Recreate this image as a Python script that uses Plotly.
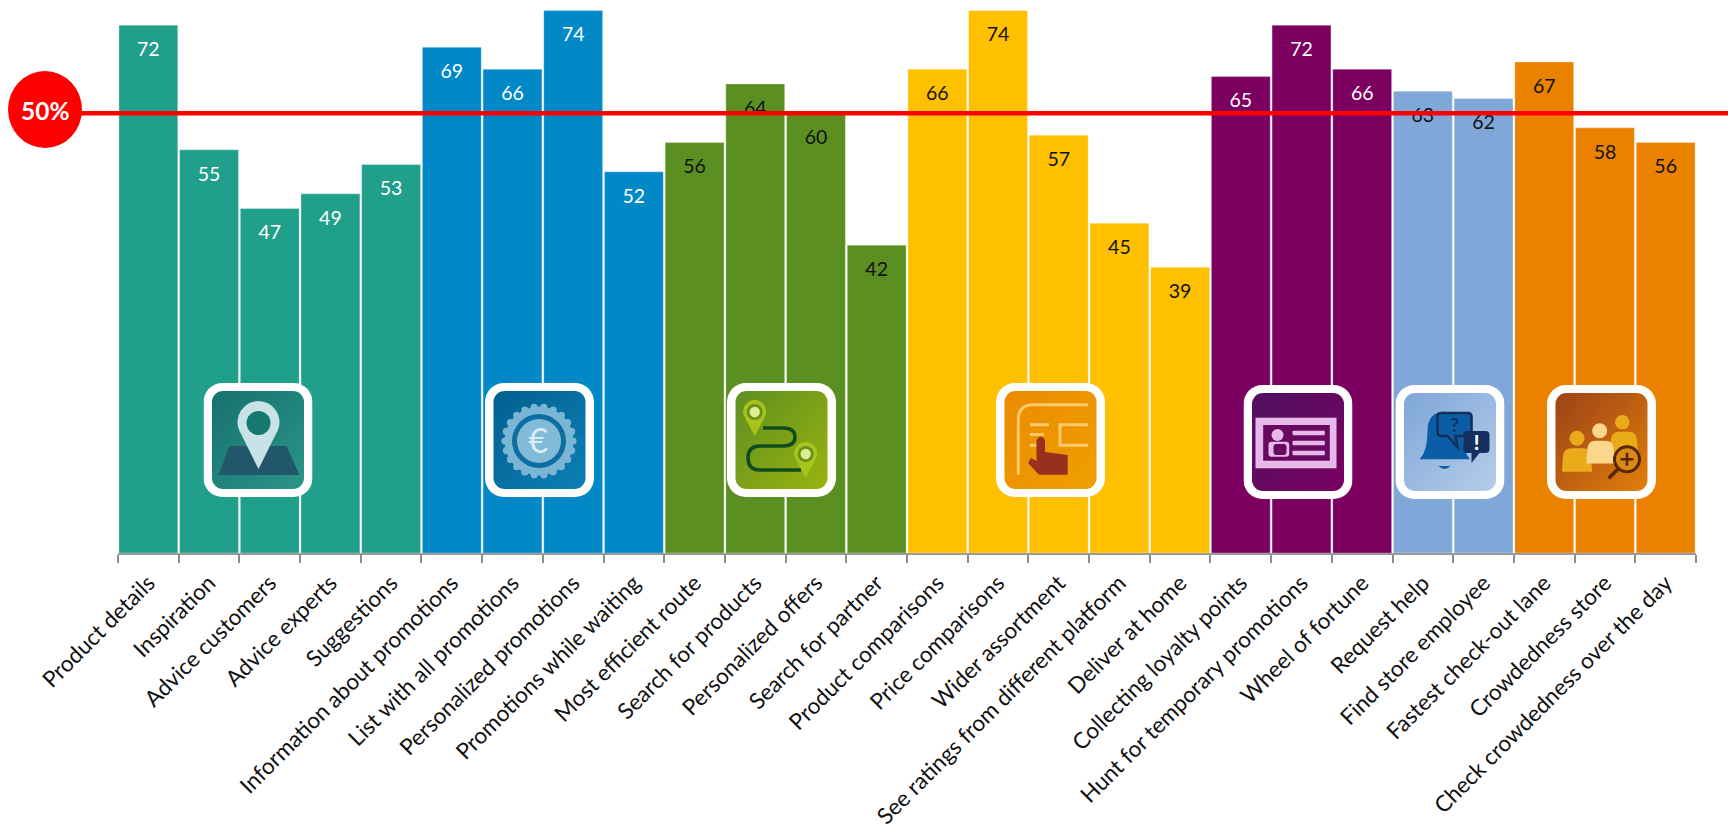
import base64
import math

import plotly.graph_objects as go

# ---- chart data ----
categories = [
    "Product details", "Inspiration", "Advice customers", "Advice experts", "Suggestions",
    "Information about promotions", "List with all promotions", "Personalized promotions",
    "Promotions while waiting",
    "Most efficient route", "Search for products", "Personalized offers", "Search for partner",
    "Product comparisons", "Price comparisons", "Wider assortment",
    "See ratings from different platform", "Deliver at home",
    "Collecting loyalty points", "Hunt for temporary promotions", "Wheel of fortune",
    "Request help", "Find store employee",
    "Fastest check-out lane", "Crowdedness store", "Check crowdedness over the day",
]
values = [72, 55, 47, 49, 53, 69, 66, 74, 52, 56, 64, 60, 42, 66, 74, 57, 45, 39, 65, 72, 66, 63, 62, 67, 58, 56]
group_sizes = [5, 4, 4, 5, 3, 2, 3]
group_colors = ["#20A08A", "#0089C6", "#5C8F22", "#FFC000", "#7B005F", "#7FA8D9", "#EA8200"]
group_text_colors = ["white", "white", "#111111", "#111111", "white", "#111111", "#111111"]
reference_level = 60
reference_label = "50%"

bar_colors = [c for c, n in zip(group_colors, group_sizes) for _ in range(n)]
text_colors = [c for c, n in zip(group_text_colors, group_sizes) for _ in range(n)]

# ---- page geometry ----
WIDTH, HEIGHT = 1728, 829
LEFT, RIGHT, TOP, BOTTOM = 118, 32, 8, 276
plot_w = WIDTH - LEFT - RIGHT
plot_h = HEIGHT - TOP - BOTTOM
PX_PER_UNIT = 7.33
y_max = plot_h / PX_PER_UNIT
label_drop = 26 / PX_PER_UNIT


def px(x):
    return (x - LEFT) / plot_w


def py(y):
    return 1 - (y - TOP) / plot_h


# ---- badge artwork ----
def pin(cx, cy, r, tip, body, hole=None, hole_r=0):
    dx = r * 0.92
    d = (f"M{cx - dx},{cy + r * 0.35} A{r},{r} 0 1 1 {cx + dx},{cy + r * 0.35} L{cx},{tip} Z")
    s = f'<path d="{d}" fill="{body}"/>'
    if hole:
        s += f'<circle cx="{cx}" cy="{cy}" r="{hole_r}" fill="{hole}"/>'
    return s


def gear(cx, cy, r, n, fill):
    s = f'<circle cx="{cx}" cy="{cy}" r="{r - 2.5}" fill="{fill}"/>'
    for i in range(n):
        a = 2 * math.pi * i / n
        s += f'<circle cx="{cx + (r - 3) * math.cos(a):.2f}" cy="{cy + (r - 3) * math.sin(a):.2f}" r="3.6" fill="{fill}"/>'
    return s


def person(hx, hy, hr, x0, y0, x1, y1, fill):
    return (f'<circle cx="{hx}" cy="{hy}" r="{hr}" fill="{fill}"/>'
            f'<path d="M{x0},{y1} L{x0 + 1},{y0 + 8} Q{x0 + 2},{y0} {x0 + 9},{y0} L{x1 - 9},{y0} '
            f'Q{x1 - 2},{y0} {x1 - 1},{y0 + 8} L{x1},{y1} Z" fill="{fill}"/>')


art_map = ('<path d="M26,63 L83,63 L96,92 L15,92 Z" fill="#22566A"/>'
           + pin(55, 40, 21, 86, "#C7E3E6", "#17786F", 12))

art_coupon = (gear(54, 58, 37, 22, "#7AB5D3")
              + '<circle cx="54" cy="58" r="27" fill="#0C6EA3"/>'
              + '<circle cx="54" cy="58" r="22" fill="#82BBD8"/>'
              + '<text x="53" y="70" font-family="Lato" font-size="34" text-anchor="middle" fill="#DCECF2">€</text>')

art_route = ('<path d="M36,45 L56,45 Q68,45 68,54 Q68,63 56,63 L33,63 Q21,63 21,75 Q21,87 33,87 L74,87" '
             'fill="none" stroke="#0F4D1D" stroke-width="3.5"/>'
             + pin(27.7, 29, 11.5, 53, "#A8C41A", "#6A8F1E", 8)
             + '<circle cx="27.7" cy="29" r="5.2" fill="#DCEF8F"/>'
             + pin(78.7, 71, 11.5, 95, "#A8C41A", "#6A8F1E", 8)
             + '<circle cx="78.7" cy="71" r="5.2" fill="#DCEF8F"/>')

art_touch = ('<g fill="none" stroke="#FBC96A" stroke-width="3">'
             '<path d="M22.3,91.7 L22.3,36.7 Q22.3,21.7 37.3,21.7 L92.3,21.7"/>'
             '<path d="M34,41.7 L53,41.7 M34,51.5 L48,51.5 M34,62.3 L44,62.3"/>'
             '<path d="M92.3,41.7 L64,41.7 L64,62.3 L92.3,62.3"/></g>'
             '<path d="M40.5,57 Q44.7,50 49,57 L49,69 L71.7,72 L71.7,91.7 L43,91.7 L32,80 L35,75 L40.5,78 Z" fill="#98301F"/>')

art_card = ('<rect x="12" y="32.7" width="81" height="50.6" fill="#E7B8EA"/>'
            '<rect x="19.7" y="40" width="66.6" height="35.7" fill="#68085E"/>'
            '<g fill="#E7B8EA"><rect x="49" y="45.7" width="32.3" height="4.6" rx="1"/>'
            '<rect x="49" y="55.7" width="32.3" height="4.6" rx="1"/>'
            '<rect x="49" y="65.7" width="32.3" height="4.6" rx="1"/>'
            '<circle cx="34" cy="50" r="6"/><rect x="25" y="56.7" width="20.7" height="15" rx="3"/></g>'
            '<rect x="30" y="59" width="13" height="11" rx="3" fill="#68085E"/>')

art_bell = ('<path d="M24.3,74.3 Q32,66 32,46 Q32,27 49,26.7 Q67,27 67,46 Q67,66 74.3,74.3 Z" fill="#0B5EA5"/>'
            '<path d="M43,81 Q49,87 55,81 Z" fill="#0B5EA5"/>'
            '<path d="M46,28 L72,28 Q76,28 76,32 L76,47 Q76,51 72,51 L60,51 L62,62 L52,51 L46,51 Q42,51 42,47 L42,32 Q42,28 46,28 Z" '
            'fill="#0B5EA5" stroke="#14305F" stroke-width="2.6"/>'
            '<text x="59" y="47" font-family="Lato" font-weight="700" font-size="19" text-anchor="middle" fill="#14305F">?</text>'
            '<path d="M71,46 L90,46 Q94,46 94,50 L94,64 Q94,68 90,68 L84,68 L76,78 L76,68 L71,68 Q67.7,68 67.7,64 L67.7,50 Q67.7,46 71,46 Z" fill="#14305F"/>'
            '<text x="81" y="65" font-family="Lato" font-weight="900" font-size="20" text-anchor="middle" fill="#FFFFFF">!</text>')

art_crowd = (person(75.3, 37.3, 7.2, 62.7, 46.7, 91, 70, "#EAAB1A")
             + person(30, 53.3, 7.5, 15, 63.3, 45, 86.7, "#EAAB1A")
             + person(52.7, 45.7, 7.5, 39.3, 55.7, 67.7, 78.5, "#FBD78B")
             + '<line x1="71" y1="84" x2="62.7" y2="92.3" stroke="#5A2508" stroke-width="3.5" stroke-linecap="round"/>'
             '<circle cx="80" cy="74.3" r="12.5" fill="#D98A15" stroke="#5A2508" stroke-width="3"/>'
             '<path d="M73.5,74.3 L86.5,74.3 M80,67.8 L80,80.8" stroke="#5A2508" stroke-width="2.6"/>')

badges = [
    (203.5, 383, "#17716F", "#2A9587", art_map),
    (485, 383, "#045F90", "#0A80B5", art_coupon),
    (727, 383, "#5D8F22", "#9AB30E", art_route),
    (996, 383, "#EC8A00", "#EEA000", art_touch),
    (1243.5, 385, "#4F1260", "#7A0060", art_card),
    (1395.5, 385, "#7EA6D8", "#B6CDE9", art_bell),
    (1547, 385, "#9C4219", "#E07F08", art_crowd),
]


def badge_image(x, y, c0, c1, art):
    svg = ('<svg xmlns="http://www.w3.org/2000/svg" width="109" height="114" viewBox="0 0 109 114">'
           f'<defs><linearGradient id="g" x1="0" y1="0" x2="1" y2="1"><stop offset="0" stop-color="{c0}"/>'
           f'<stop offset="1" stop-color="{c1}"/></linearGradient></defs>'
           '<rect x="0" y="0" width="109" height="114" rx="19" fill="#FFFFFF"/>'
           '<rect x="8.5" y="8" width="92" height="98" rx="11" fill="url(#g)"/>'
           f'{art}</svg>')
    uri = "data:image/svg+xml;base64," + base64.b64encode(svg.encode()).decode()
    return dict(source=uri, xref="paper", yref="paper", x=px(x), y=py(y),
                sizex=109 / plot_w, sizey=114 / plot_h, xanchor="left", yanchor="top",
                sizing="stretch", layer="above")


fig = go.Figure()

fig.add_bar(
    x=categories, y=values,
    marker=dict(color=bar_colors, line=dict(color="rgba(255,255,255,0.3)", width=1)),
    hoverinfo="x+y",
)

# Value labels sit on a second axis with the same scale, shifted so that they land inside the bars.
fig.add_scatter(
    x=categories, y=values, yaxis="y2", mode="text",
    text=[str(v) for v in values], textposition="middle center",
    textfont=dict(family="Lato", size=19.5, color=text_colors),
    hoverinfo="skip", cliponaxis=False,
)

shapes = [
    dict(type="line", xref="paper", yref="y", x0=px(80), x1=px(WIDTH),
         y0=reference_level, y1=reference_level, line=dict(color="#FF0000", width=4.5), layer="above"),
    dict(type="circle", xref="paper", yref="paper", x0=px(8), x1=px(82), y0=py(148), y1=py(71),
         fillcolor="#FF0000", line=dict(width=0), layer="above"),
]

fig.update_layout(
    width=WIDTH, height=HEIGHT,
    margin=dict(l=LEFT, r=RIGHT, t=TOP, b=BOTTOM, autoexpand=False),
    paper_bgcolor="white", plot_bgcolor="white",
    showlegend=False, bargap=0.03,
    font=dict(family="Lato", color="#111111"),
    xaxis=dict(
        type="category", categoryorder="array", categoryarray=categories,
        range=[-0.5, len(categories) - 0.5], tickson="boundaries",
        ticks="outside", ticklen=8, tickwidth=1.5, tickcolor="#8C8C8C",
        showline=True, linecolor="#9A9A9A", linewidth=2, showgrid=False,
        tickangle=-45, tickfont=dict(family="Lato", size=22.5, color="#111111"),
        ticklabelstandoff=6, automargin=False,
    ),
    yaxis=dict(range=[0, y_max], visible=False, fixedrange=True),
    yaxis2=dict(range=[label_drop, y_max + label_drop], overlaying="y", visible=False, fixedrange=True),
    shapes=shapes,
    images=[badge_image(*b) for b in badges],
    annotations=[
        dict(xref="paper", yref="paper", x=px(45), y=py(110), text=f"<b>{reference_label}</b>",
             showarrow=False, xanchor="center", yanchor="middle",
             font=dict(family="Lato", size=24.5, color="white")),
    ],
)

fig.write_html("out.html")
